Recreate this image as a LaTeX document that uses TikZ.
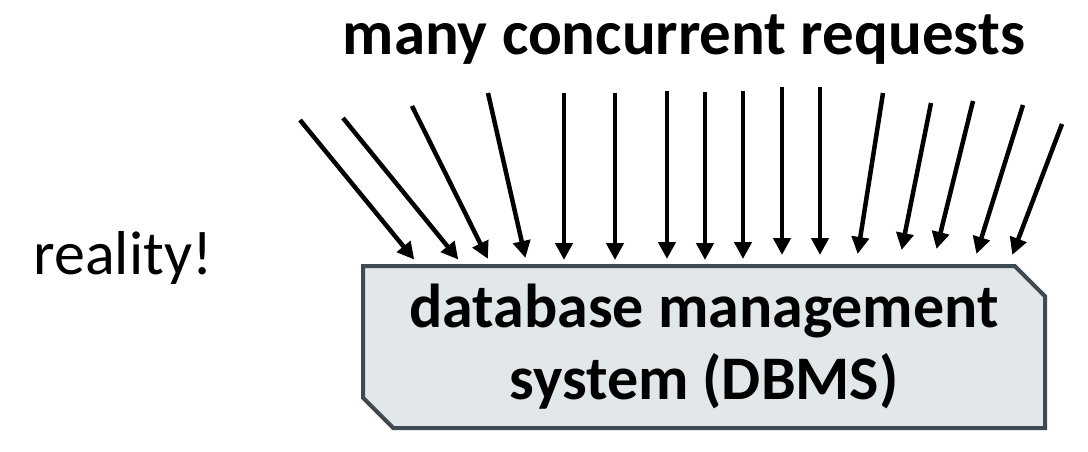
\documentclass[tikz,border=0pt]{standalone}
\usepackage{fontspec}
\setmainfont{Carlito}
\usetikzlibrary{arrows.meta,shapes.misc}
\definecolor{dbmsfill}{HTML}{E2E7EA}
\definecolor{dbmsdraw}{HTML}{3F4A52}

\begin{document}
\begin{tikzpicture}[x=1pt,y=-1pt]
    \tikzstyle{request} = [line width=4.5pt, -{Triangle[width=17pt,length=17pt]}, shorten >=-2pt]
    \tikzstyle{dbms} = [chamfered rectangle, chamfered rectangle corners={north east,south west},
        chamfered rectangle xsep=27pt, draw=dbmsdraw, fill=dbmsfill, line width=4pt,
        minimum width=682pt, minimum height=162pt, inner sep=0pt, align=center,
        font=\fontsize{62}{72}\selectfont\bfseries]
    \useasboundingbox (0,0) rectangle (1088,452);
    % the system
    \node[dbms] (db) at (704,347) {database management\\system (DBMS)};
    % labels
    \node[font=\fontsize{63}{66}\selectfont\bfseries] (title) at (684,40) {many concurrent requests};
    \node[font=\fontsize{62}{66}\selectfont] (reality) at (123,258) {reality!};
    % requests
    \foreach \i/\sx/\sy/\ex/\ey in {1/300/120/413/258, 2/343/118/457/258, 3/412/106/487/257,
        4/488/93/525/256, 5/564/93/564/258, 6/615/93/615/258, 7/667/91/667/257,
        8/705/92/705/258, 9/743/91/743/257, 10/782/87/782/253, 11/820/87/820/253,
        12/883/93/858/252, 13/931/103/902/248, 14/973/101/937/247, 15/1023/105/977/252,
        16/1062/124/1013/253} {
        \coordinate (src\i) at (\sx,\sy);
        \coordinate (dst\i) at (\ex,\ey);
        \draw[request] (src\i) -- (dst\i);
    }
\end{tikzpicture}
\end{document}
